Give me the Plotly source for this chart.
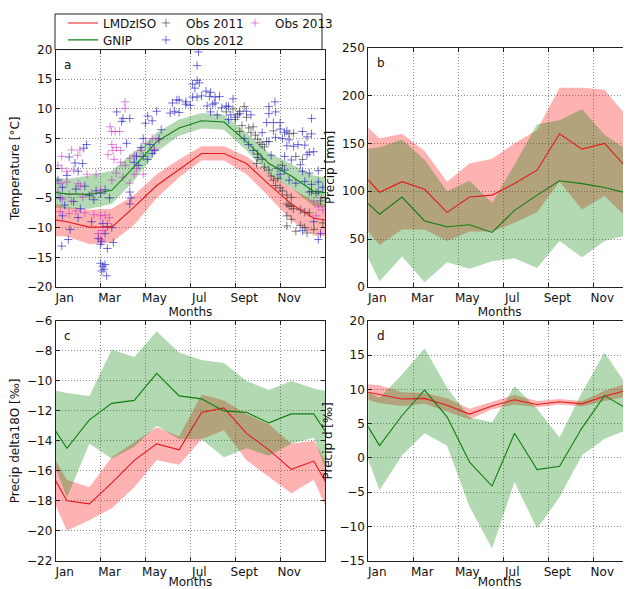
import plotly.graph_objects as go

# month centres (Jan = 0.5 ... Dec = 11.5)
months_mid = [0.5 + i for i in range(12)]
tick_pos = [0, 2, 4, 6, 8, 10]
tick_text = ["Jan", "Mar", "May", "Jul", "Sept", "Nov"]

# panel a: temperature
lmdz_temp = [-9.0, -9.9, -9.9, -6.5, -2.9, -0.2, 2.5, 2.5, 0.8, -2.7, -6.0, -8.4]
lmdz_temp_lo = [-11.5, -12.8, -12.5, -9.5, -5.0, -1.5, 1.3, 1.3, -1.0, -4.8, -8.8, -11.3]
lmdz_temp_hi = [-6.5, -7.0, -6.8, -4.5, -1.0, 1.5, 3.7, 3.7, 2.0, -0.8, -3.3, -5.5]
gnip_temp = [-4.3, -4.4, -3.7, 0.3, 4.5, 6.8, 8.0, 7.8, 4.5, 0.8, -1.3, -3.9]
gnip_temp_lo = [-6.8, -6.8, -6.0, -2.0, 2.8, 5.5, 6.7, 6.5, 3.0, -1.0, -3.3, -6.4]
gnip_temp_hi = [-1.8, -1.2, -0.4, 2.8, 6.0, 8.2, 9.3, 9.0, 6.0, 2.6, 0.7, -1.2]

obs2011_month = [7.6, 7.9, 8.1, 8.4, 8.2, 8.5, 8.3, 8.6, 8.8, 8.7, 8.9, 9.0, 9.1, 9.3, 9.2, 9.4,
                 9.0, 9.2, 8.95, 9.3, 9.5, 9.6, 9.7, 9.9, 9.8, 10.0, 10.1, 10.3, 10.5, 10.3, 10.5,
                 10.6, 10.4, 10.3, 10.5, 10.3, 10.9, 11.1, 11.3, 10.9, 11.1, 11.2, 11.5, 10.4,
                 10.7, 11.0, 11.4, 11.6, 11.8, 10.1, 9.7, 8.2, 8.0, 10.6, 10.7, 11.9]
obs2011_temp = [9.5, 10.0, 9.0, 10.4, 9.6, 8.6, 7.2, 6.8, 7.0, 6.0, 5.6, 4.9, 4.3, 3.6, 4.0, 4.5,
                2.4, 1.5, 0.8, 0.2, -0.3, -1.3, -2.0, -1.7, -2.9, -3.3, -3.8, -4.5, -4.9, -6.0, -6.4,
                -6.8, -6.3, -8.0, -8.6, -9.7, -7.0, -7.4, -7.5, -9.6, -10.0, -10.9, -10.3, 5.8,
                2.0, 1.5, -3.9, -4.2, -5.5, 0.5, 6.3, 6.2, 8.2, 5.9, -10.6, -9.2]

obs2012_month = [0.1, 0.3, 0.2, 0.5, 0.6, 0.86, 1.0, 1.2, 1.25, 1.38, 0.64, 0.56, 0.27, 0.9, 1.3,
                 1.5, 0.4, 0.8, 1.1, 1.8, 1.7, 2.0, 2.2, 2.4, 0.3, 1.0, 1.6, 2.1, 2.3, 2.5, 2.2,
                 1.9, 2.0, 2.05, 2.57, 2.3, 2.0, 2.1, 2.2, 2.05, 2.15, 2.27, 2.72, 2.94, 3.0, 3.3,
                 3.3, 3.35, 3.3, 3.16, 3.5, 3.6, 3.8, 3.9, 4.0, 4.1, 4.3, 4.2, 4.4, 4.5, 4.6, 4.7,
                 5.1, 5.3, 5.5, 5.4, 5.2, 5.5, 5.8, 5.8, 6.0, 6.1, 6.3, 6.5, 6.1, 6.3, 6.4, 6.2,
                 6.36, 6.3, 6.7, 6.9, 6.85, 7.1, 7.3, 6.75, 7.0, 7.1, 6.9, 7.2, 7.4, 7.6, 7.8, 7.7,
                 7.9, 7.7, 8.0, 8.2, 8.5, 8.7, 9.5, 9.77, 9.5, 9.8, 9.4, 9.7, 10.0, 10.0, 10.2,
                 10.3, 11.0, 11.2, 11.4, 11.4, 9.5, 9.8, 10.1, 10.4, 10.3, 10.6, 10.8, 11.1, 11.3,
                 11.5, 9.0, 9.6, 10.2, 10.5, 11.2, 10.9, 9.9, 10.2, 11.0, 11.3, 11.7, 10.4, 10.7,
                 11.1, 11.4, 11.7, 11.3, 11.7, 11.9, 11.5, 11.8, 11.7, 11.0, 10.0, 8.8, 8.4, 8.6,
                 9.2, 3.9, 4.1, 4.3, 3.7]
obs2012_temp = [-2.0, -3.2, -5.0, -1.2, 1.9, 0.9, -0.5, 0.8, 3.4, 4.0, -10.3, -12.0, -13.1, -3.5, -3.0,
                -4.6, -6.2, -5.6, -6.8, -3.8, -5.3, -4.2, -3.6, -5.0, -8.0, -8.3, -9.0, -9.3, -9.8, -10.0, -11.0,
                -11.8, -12.8, -12.3, -12.5, -13.5, -16.0, -16.5, -16.2, -17.3, -17.0, -18.1, 9.5, 7.9, 8.4, 8.4,
                -4.0, -5.0, -6.0, 4.2, 1.0, 2.0, 3.5, 5.0, 7.6, 8.8, 8.0, 4.0, 3.0, 9.6, 5.0, 6.5,
                9.3, 9.6, 9.4, 11.5, 11.0, 11.5, 11.2, 10.8, 10.6, 12.0, 12.0, 12.2, 14.2, 14.8, 14.4, 13.5,
                19.6, 17.3, 13.0, 12.8, 12.1, 12.0, 12.1, 10.5, 10.8, 11.0, 9.5, 9.0, 10.2, 10.5, 9.0, 8.2,
                11.7, 10.4, 8.6, 9.2, 9.6, 9.0, 10.4, 11.2, 9.2, 9.5, 7.7, 7.7, 7.7, 6.6, 6.0,
                6.3, 6.2, 5.3, 5.8, 8.4, 4.5, 5.2, 5.0, 4.8, 3.8, 3.7, 4.0, 3.9, 2.7,
                2.8, 1.8, 2.2, 2.0, 1.4, 2.3, 0.6, 0.0, -0.3, -0.5, -0.8, -0.4, -2.0, -2.5,
                -2.2, -2.7, -2.3, -4.0, -3.9, -3.2, -9.0, -11.0, -12.0, -10.5, -1.0, 3.0, 5.0, 4.0,
                6.0, 2.0, 1.5, 2.5, 0.5]

obs2013_month = [0.27, 0.71, 1.08, 0.98, 0.1, 0.27, 0.5, 0.8, 1.4, 1.8, 0.2, 0.5, 1.0, 1.1, 0.1,
                 0.6, 1.2, 1.6, 2.0, 0.3, 0.7, 0.2, 0.6, 0.9, 1.3, 1.7, 2.0, 2.2, 2.4, 3.09, 3.09,
                 2.42, 2.49, 2.65, 2.85, 2.55, 2.33, 2.5, 2.7, 2.9, 2.6, 2.9, 3.1, 3.3, 3.5, 3.6,
                 2.7, 3.0, 3.3, 3.5, 2.5, 3.8, 4.0, 4.3, 4.4, 4.6, 3.9, 11.5, 11.7, 11.9, 11.6,
                 11.85, 2.3, 2.1, 1.9, 2.0]
obs2013_temp = [2.0, 3.1, 3.1, 2.2, 0.5, 0.0, -0.5, -0.3, -1.0, -1.0, -2.5, -2.3, -2.6, -3.0, -4.0,
                -4.4, -4.8, -4.2, -3.7, -5.2, -5.5, -7.3, -7.6, -7.2, -7.5, -7.8, -8.0, -7.9, -8.3, 11.2, 10.1,
                7.0, 6.2, 6.2, 6.2, 3.0, 2.3, 4.0, 3.5, 3.0, 1.5, 1.0, 0.5, 1.7, 2.2, 0.0,
                -0.8, -1.5, -2.5, -1.0, -2.0, 3.0, 4.2, 5.0, 3.2, 4.8, -1.0, -5.5, -6.5, -7.0, -8.0,
                -5.0, -9.3, -10.5, -11.0, -12.0]

# panel b: precipitation amount
lmdz_prec = [99, 110, 102, 78, 94, 96, 108, 122, 160, 144, 150, 124]
lmdz_prec_lo = [44, 60, 60, 48, 58, 58, 67, 78, 110, 81, 95, 72]
lmdz_prec_hi = [155, 160, 142, 110, 129, 134, 150, 164, 208, 208, 206, 178]
gnip_prec = [76, 94, 69, 63, 65, 57, 80, 96, 111, 108, 104, 98]
gnip_prec_lo = [6, 32, 5, 26, 19, 27, 30, 20, 48, 31, 48, 54]
gnip_prec_hi = [146, 154, 133, 100, 111, 88, 128, 170, 174, 186, 159, 143]

# panel c: precip delta18O
lmdz_d18o = [-18.0, -18.2, -16.8, -15.3, -14.2, -14.6, -12.1, -11.8, -13.5, -14.6, -15.9, -15.35]
lmdz_d18o_lo = [-20.0, -19.3, -18.5, -17.1, -15.3, -15.6, -13.9, -13.3, -15.3, -16.4, -17.5, -16.6]
lmdz_d18o_hi = [-16.6, -17.1, -15.1, -14.1, -13.1, -13.7, -10.9, -11.3, -12.2, -12.9, -14.2, -14.0]
gnip_d18o = [-14.5, -12.6, -11.5, -11.3, -9.5, -11.0, -11.2, -12.0, -12.1, -12.8, -12.2, -12.2]
gnip_d18o_lo = [-17.8, -14.2, -15.2, -14.4, -13.0, -13.9, -13.9, -15.1, -14.5, -15.0, -14.2, -13.8]
gnip_d18o_hi = [-10.8, -11.0, -7.9, -8.4, -6.7, -8.1, -8.6, -8.8, -10.0, -10.6, -10.0, -10.5]

# panel d: precip d-excess
lmdz_dex = [9.2, 8.6, 8.7, 7.7, 6.4, 7.6, 8.5, 7.8, 8.2, 7.9, 9.0, 9.9]
lmdz_dex_lo = [8.0, 7.6, 7.9, 6.8, 5.6, 7.1, 7.8, 7.4, 7.8, 7.5, 8.3, 9.0]
lmdz_dex_hi = [10.6, 9.6, 9.5, 8.7, 7.2, 8.2, 9.2, 8.3, 8.6, 8.3, 9.8, 10.9]
gnip_dex = [1.8, 6.2, 9.9, 6.0, -0.6, -4.1, 3.6, -1.7, -1.2, 4.4, 9.1, 7.2]
gnip_dex_lo = [-4.7, 0.4, 3.6, 1.8, -7.1, -13.2, -3.5, -10.3, -5.7, 0.4, 2.8, 4.1]
gnip_dex_hi = [8.8, 12.2, 16.0, 10.3, 5.9, 5.2, 10.5, 7.2, 3.0, 9.6, 15.4, 10.5]

RED = "#e41a1a"
GREEN = "#108010"
RED_FILL = "rgba(255,0,0,0.3)"
GREEN_FILL = "rgba(0,128,0,0.3)"
FONT = "DejaVu Sans"

# the page body has an 8px margin, so the figure is placed 8px in from the window corner
OFF = 8
W, H = 631 - OFF, 589 - OFF


def ext(v):
    # wrap Dec before Jan and Jan after Dec so the curves reach the axis edges
    return [v[-1]] + list(v) + [v[0]]


x_ext = [-0.5] + months_mid + [12.5]


def band(lo, hi, color, xa, ya):
    return go.Scatter(x=x_ext + x_ext[::-1], y=ext(hi) + ext(lo)[::-1], mode="lines",
                      fill="toself", fillcolor=color, line=dict(width=0),
                      hoverinfo="skip", showlegend=False, xaxis=xa, yaxis=ya)


def line(v, color, xa, ya, name=None, leg=None):
    tr = go.Scatter(x=x_ext, y=ext(v), mode="lines", line=dict(color=color, width=1.1),
                    name=name, showlegend=leg is not None, xaxis=xa, yaxis=ya)
    if leg:
        tr.legend = leg
    return tr


def obs(mx, my, color, name, leg):
    return go.Scatter(x=mx, y=my, mode="markers", name=name, legend=leg,
                      marker=dict(symbol="cross-thin", size=6, color=color,
                                  line=dict(color=color, width=1)),
                      xaxis="x", yaxis="y")


fig = go.Figure()

panels = [
    ("x", "y", lmdz_temp, lmdz_temp_lo, lmdz_temp_hi, gnip_temp, gnip_temp_lo, gnip_temp_hi),
    ("x2", "y2", lmdz_prec, lmdz_prec_lo, lmdz_prec_hi, gnip_prec, gnip_prec_lo, gnip_prec_hi),
    ("x3", "y3", lmdz_d18o, lmdz_d18o_lo, lmdz_d18o_hi, gnip_d18o, gnip_d18o_lo, gnip_d18o_hi),
    ("x4", "y4", lmdz_dex, lmdz_dex_lo, lmdz_dex_hi, gnip_dex, gnip_dex_lo, gnip_dex_hi),
]

for xa, ya, lm, lm_lo, lm_hi, gn, gn_lo, gn_hi in panels:
    fig.add_trace(band(lm_lo, lm_hi, RED_FILL, xa, ya))
    fig.add_trace(band(gn_lo, gn_hi, GREEN_FILL, xa, ya))
    if xa == "x":
        fig.add_trace(obs(obs2011_month, obs2011_temp, "rgba(30,30,30,0.55)", "Obs 2011", "legend3"))
        fig.add_trace(obs(obs2012_month, obs2012_temp, "rgba(20,20,190,0.6)", "Obs 2012", "legend4"))
        fig.add_trace(obs(obs2013_month, obs2013_temp, "rgba(200,40,200,0.55)", "Obs 2013", "legend5"))
        fig.add_trace(line(lm, RED, xa, ya, "LMDzISO", "legend"))
        fig.add_trace(line(gn, GREEN, xa, ya, "GNIP", "legend2"))
    else:
        fig.add_trace(line(lm, RED, xa, ya))
        fig.add_trace(line(gn, GREEN, xa, ya))

# axis geometry in window pixels (left, right, top, bottom)
px_a = (55.7, 325.0, 47.7, 286.0)
px_b = (368.3, 631.0, 45.7, 286.0)
px_c = (55.7, 325.0, 320.0, 560.7)
px_d = (368.3, 631.0, 320.0, 560.7)


def fx(x):
    return (x - OFF) / W


def fy(y):
    return 1 - (y - OFF) / H


def dom(p):
    l, r, t, b = p
    return [fx(l), min(fx(r), 1)], [fy(b), fy(t)]


axis_common = dict(showline=True, linecolor="#222", linewidth=1, ticks="inside", ticklen=4,
                   tickcolor="#222", showgrid=True, gridcolor="#8a8a8a", griddash="1px,2px",
                   gridwidth=1, zeroline=False, automargin=False,
                   tickfont=dict(family=FONT, size=12, color="#111"))


def xaxis(p, anchor, rng):
    d, _ = dom(p)
    return dict(axis_common, domain=d, anchor=anchor, range=rng, tickvals=tick_pos,
                ticktext=tick_text, ticklabelshift=9, mirror="ticks",
                title=dict(text="Months", font=dict(family=FONT, size=12, color="#111"), standoff=1))


def yaxis(p, anchor, rng, dtick, title, mirror=True):
    _, d = dom(p)
    return dict(axis_common, domain=d, anchor=anchor, range=rng, dtick=dtick,
                mirror="ticks" if mirror else False,
                title=dict(text=title, font=dict(family=FONT, size=12, color="#111"), standoff=4))


right_a = 12
right_b = (631 - 368.3) / 22.5


def legend_at(xt, yc):
    # xt: window pixel where the entry text starts, yc: window pixel of the row centre
    return dict(orientation="v", x=fx(xt - 30), xanchor="left", y=fy(yc),
                yanchor="middle", bgcolor="rgba(0,0,0,0)", borderwidth=0, itemwidth=30,
                font=dict(family=FONT, size=12, color="#111"))


fig.update_layout(
    width=W, height=H,
    margin=dict(l=0, r=0, t=0, b=0),
    paper_bgcolor="white", plot_bgcolor="white",
    font=dict(family=FONT, size=12, color="#111"),
    xaxis=xaxis(px_a, "y", [0, right_a]),
    yaxis=yaxis(px_a, "x", [-20, 20], 5, "Temperature [°C]"),
    xaxis2=xaxis(px_b, "y2", [0, right_b]),
    yaxis2=yaxis(px_b, "x2", [0, 250], 50, "Precip [mm]", mirror=False),
    xaxis3=xaxis(px_c, "y3", [0, right_a]),
    yaxis3=yaxis(px_c, "x3", [-22, -6], 2, "Precip delta18O [‰]"),
    xaxis4=xaxis(px_d, "y4", [0, right_b]),
    yaxis4=yaxis(px_d, "x4", [-15, 20], 5, "Precip d [‰]", mirror=False),
    legend=legend_at(93, 21),
    legend2=legend_at(93, 38),
    legend3=legend_at(176, 21),
    legend4=legend_at(176, 38),
    legend5=legend_at(265, 21),
    showlegend=True,
)

# legend frame
fig.add_shape(type="rect", xref="paper", yref="paper", x0=fx(55), x1=fx(322),
              y0=fy(47.7), y1=fy(12), line=dict(color="#222", width=1),
              fillcolor="white", layer="below")

for letter, xr, yr in [("a", "x", "y"), ("b", "x2", "y2"), ("c", "x3", "y3"), ("d", "x4", "y4")]:
    fig.add_annotation(text=letter, xref=xr + " domain", yref=yr + " domain", x=0.025, y=0.975,
                       xanchor="left", yanchor="top", showarrow=False,
                       font=dict(family=FONT, size=12, color="#111"))

fig.write_html("out.html")
